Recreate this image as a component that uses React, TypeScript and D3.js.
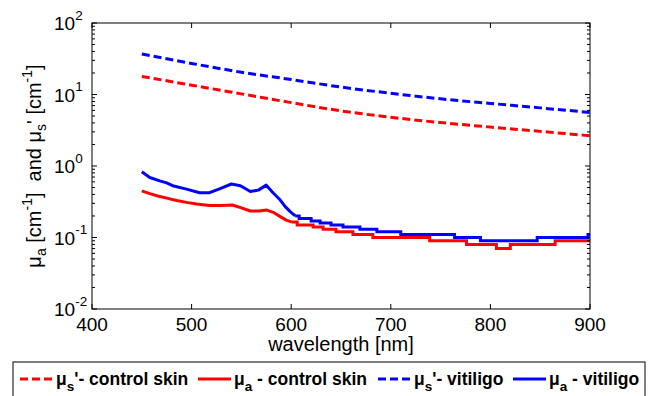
import React from "react";
import * as d3 from "d3";

const xTicks = [400, 500, 600, 700, 800, 900];
const yDecades = [-2, -1, 0, 1, 2];

const wlScatter = [450, 500, 550, 600, 650, 700, 750, 800, 850, 900];
const musControl = [17.9, 13.5, 10.2, 7.7, 5.9, 4.8, 4.05, 3.5, 3.05, 2.65];
const musVitiligo = [36.8, 27.2, 20.5, 16.2, 12.7, 10.4, 8.7, 7.5, 6.5, 5.6];

const muaControlHeadWl = [450, 458, 466, 475, 485, 495, 505, 518, 530, 541, 550, 559, 568, 575, 582, 589, 595, 600];
const muaControlHead = [0.45, 0.41, 0.38, 0.355, 0.33, 0.31, 0.295, 0.28, 0.28, 0.285, 0.26, 0.235, 0.235, 0.243, 0.225, 0.196, 0.175, 0.165];
const muaControlTailWl = [600, 606, 622, 632, 645, 662, 682, 739, 776, 806, 820, 865, 900];
const muaControlTail = [0.165, 0.15, 0.14, 0.13, 0.12, 0.11, 0.1, 0.09, 0.08, 0.07, 0.08, 0.09, 0.09];

const muaVitHeadWl = [450, 458, 468, 475, 482, 495, 508, 518, 528, 540, 549, 559, 567, 575, 582, 589, 594, 599, 604];
const muaVitHead = [0.83, 0.69, 0.62, 0.58, 0.525, 0.475, 0.423, 0.423, 0.48, 0.56, 0.53, 0.44, 0.46, 0.54, 0.42, 0.334, 0.27, 0.23, 0.2];
const muaVitTailWl = [604, 608, 620, 629, 640, 652, 669, 686, 710, 764, 790, 847, 898, 900];
const muaVitTail = [0.2, 0.185, 0.17, 0.16, 0.15, 0.14, 0.13, 0.12, 0.11, 0.1, 0.09, 0.1, 0.11, 0.11];

const RED = "#ff0000";
const BLUE = "#0000ff";
const FONT = "'Liberation Sans', Arial, Helvetica, sans-serif";

const W = 657;
const H = 396;
const L = 92, R = 590, T = 23, B = 309;

export default function App() {
  const x = d3.scaleLinear().domain([400, 900]).range([L, R]);
  const y = d3.scaleLog().domain([0.01, 100]).range([B, T]);

  const smooth = d3.line<[number, number]>().x(d => x(d[0])).y(d => y(d[1])).curve(d3.curveMonotoneX);
  const lin = d3.line<[number, number]>().x(d => x(d[0])).y(d => y(d[1]));
  const step = d3.line<[number, number]>().x(d => x(d[0])).y(d => y(d[1])).curve(d3.curveStepAfter);

  const zip = (a: number[], b: number[]) => a.map((v, i) => [v, b[i]] as [number, number]);

  const minorTicks: number[] = [];
  for (let e = -2; e < 2; e++) {
    for (let m = 2; m <= 9; m++) minorTicks.push(m * Math.pow(10, e));
  }

  const legendItems = [
    { x0: 20, color: RED, dash: "8,4", sub: "s", rest: "'- control skin" },
    { x0: 198, color: RED, dash: "", sub: "a", rest: " - control skin" },
    { x0: 378, color: BLUE, dash: "8,4", sub: "s", rest: "'- vitiligo" },
    { x0: 513, color: BLUE, dash: "", sub: "a", rest: " - vitiligo" },
  ];

  return (
    <svg width={W} height={H} style={{ position: "absolute", left: 0, top: 0, background: "#fff" }} fontFamily={FONT}>
      <rect x={0} y={0} width={W} height={H} fill="#fff" />
      <g fill="none">
        <path d={smooth(zip(wlScatter, musControl)) || ""} stroke={RED} strokeWidth={3} strokeDasharray="8,4" />
        <path d={smooth(zip(wlScatter, musVitiligo)) || ""} stroke={BLUE} strokeWidth={3} strokeDasharray="8,4" />
        <path d={lin(zip(muaControlHeadWl, muaControlHead)) || ""} stroke={RED} strokeWidth={3} strokeLinejoin="round" />
        <path d={step(zip(muaControlTailWl, muaControlTail)) || ""} stroke={RED} strokeWidth={3} />
        <path d={lin(zip(muaVitHeadWl, muaVitHead)) || ""} stroke={BLUE} strokeWidth={3} strokeLinejoin="round" />
        <path d={step(zip(muaVitTailWl, muaVitTail)) || ""} stroke={BLUE} strokeWidth={3} />
      </g>
      <rect x={L} y={T} width={R - L} height={B - T} fill="none" stroke="#000" strokeWidth={1} />
      <g stroke="#000" strokeWidth={1}>
        {xTicks.map(t => (
          <g key={"xt" + t}>
            <line x1={x(t)} x2={x(t)} y1={B} y2={B - 5} />
            <line x1={x(t)} x2={x(t)} y1={T} y2={T + 5} />
          </g>
        ))}
        {yDecades.map(e => (
          <g key={"yt" + e}>
            <line x1={L} x2={L + 5} y1={y(Math.pow(10, e))} y2={y(Math.pow(10, e))} />
            <line x1={R} x2={R - 5} y1={y(Math.pow(10, e))} y2={y(Math.pow(10, e))} />
          </g>
        ))}
        {minorTicks.map(v => (
          <g key={"ym" + v}>
            <line x1={L} x2={L + 3} y1={y(v)} y2={y(v)} />
            <line x1={R} x2={R - 3} y1={y(v)} y2={y(v)} />
          </g>
        ))}
      </g>
      <g fontSize={19} fill="#000">
        {xTicks.map(t => (
          <text key={"xl" + t} x={x(t)} y={331} textAnchor="middle">{t}</text>
        ))}
        {yDecades.map(e => (
          <text key={"yl" + e} x={54} y={y(Math.pow(10, e)) + 7}>
            10<tspan dy={-10.5} fontSize={13.5}>{e}</tspan>
          </text>
        ))}
      </g>
      <text x={(L + R) / 2} y={351} textAnchor="middle" fontSize={20}>wavelength [nm]</text>
      <text transform={`translate(41,${(T + B) / 2}) rotate(-90)`} textAnchor="middle" fontSize={20} style={{ whiteSpace: "pre" }}>
        μ<tspan dy={5} fontSize={14}>a</tspan><tspan dy={-5}> [cm</tspan><tspan dy={-9} fontSize={14}>-1</tspan><tspan dy={9}>]  and μ</tspan><tspan dy={5} fontSize={14}>s</tspan><tspan dy={-5}>' [cm</tspan><tspan dy={-9} fontSize={14}>-1</tspan><tspan dy={9}>]</tspan>
      </text>
      <rect x={13} y={362} width={632} height={40} fill="#fff" stroke="#000" strokeWidth={1} />
      {legendItems.map((it, i) => (
        <g key={"lg" + i}>
          <line x1={it.x0} x2={it.x0 + 33} y1={379} y2={379} stroke={it.color} strokeWidth={3} strokeDasharray={it.dash || undefined} />
          <text x={it.x0 + 36} y={385} fontSize={17.5} fontWeight="bold" style={{ whiteSpace: "pre" }}>
            μ<tspan dy={6} fontSize={13.5}>{it.sub}</tspan><tspan dy={-6}>{it.rest}</tspan>
          </text>
        </g>
      ))}
    </svg>
  );
}
